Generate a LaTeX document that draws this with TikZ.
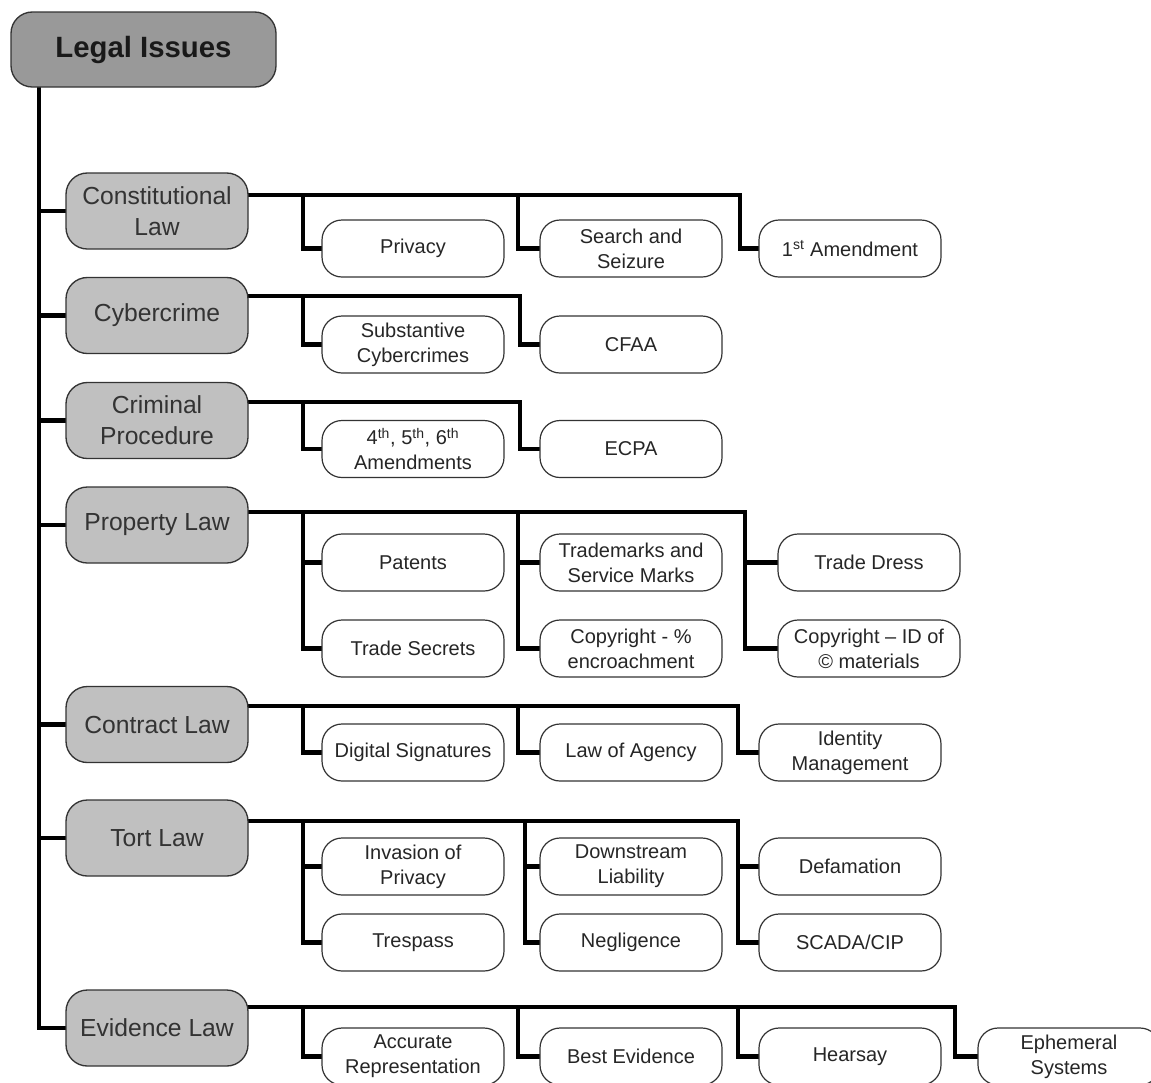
\documentclass[tikz,border=0pt]{standalone}
\usepackage{fontspec}
\setmainfont{Liberation Sans}
\usetikzlibrary{backgrounds}
\definecolor{rootgray}{HTML}{999999}
\definecolor{catgray}{HTML}{C0C0C0}
\definecolor{edgegray}{HTML}{333333}
\tikzset{
  rootbox/.style={draw=edgegray, line width=1pt, rounded corners=16pt, fill=rootgray,
    minimum width=198.75pt, minimum height=56.25pt, inner sep=1pt, align=center,
    text=black!90, font=\bfseries\fontsize{22}{26}\selectfont},
  catbox/.style={draw=edgegray, line width=1pt, rounded corners=16pt, fill=catgray,
    minimum width=136.5pt, minimum height=57pt, inner sep=1pt, align=center,
    text=black!80, font=\fontsize{18.5}{23}\selectfont},
  leafbox/.style={draw=edgegray, line width=0.9pt, rounded corners=15pt, fill=white,
    minimum width=136.5pt, minimum height=42.75pt, inner sep=1pt, align=center,
    text=black!85, font=\fontsize{15}{18.75}\selectfont},
  trunk/.style={draw=black, line width=3.6pt, line cap=rect},
}
\begin{document}
\begin{tikzpicture}[x=0.75pt,y=-0.75pt]
\useasboundingbox (0,0) rectangle (1151,1082);
\clip (0,0) rectangle (1151,1082);

% root and categories
\node[rootbox] (root) at (143.5,49.5) {Legal Issues};
\node[catbox] (cons) at (157,211) {Constitutional\\Law};
\node[catbox] (cyber) at (157,315.5) {Cybercrime};
\node[catbox] (crim) at (157,420.5) {Criminal\\Procedure};
\node[catbox] (prop) at (157,525) {Property Law};
\node[catbox] (contr) at (157,724.5) {Contract Law};
\node[catbox] (tort) at (157,838) {Tort Law};
\node[catbox] (evid) at (157,1028) {Evidence Law};

% leaves
\node[leafbox] (priv) at (413,248.5) {Privacy};
\node[leafbox] (search) at (631,248.5) {Search and\\Seizure};
\node[leafbox] (amend) at (850,248.5) {1\textsuperscript{st} Amendment};

\node[leafbox] (subst) at (413,344.5) {Substantive\\Cybercrimes};
\node[leafbox] (cfaa) at (631,344.5) {CFAA};

\node[leafbox] (fourth) at (413,449) {4\textsuperscript{th}, 5\textsuperscript{th}, 6\textsuperscript{th}\\Amendments};
\node[leafbox] (ecpa) at (631,449) {ECPA};

\node[leafbox] (pat) at (413,562.5) {Patents};
\node[leafbox] (secr) at (413,648.5) {Trade Secrets};
\node[leafbox] (tmark) at (631,562.5) {Trademarks and\\Service Marks};
\node[leafbox] (copyp) at (631,648.5) {Copyright - \%\\encroachment};
\node[leafbox] (dress) at (869,562.5) {Trade Dress};
\node[leafbox] (copyid) at (869,648.5) {Copyright -- ID of\\\textcopyright{} materials};

\node[leafbox] (dsig) at (413,752.5) {Digital Signatures};
\node[leafbox] (agency) at (631,752.5) {Law of Agency};
\node[leafbox] (ident) at (850,752.5) {Identity\\Management};

\node[leafbox] (invas) at (413,866.5) {Invasion of\\Privacy};
\node[leafbox] (tresp) at (413,942.5) {Trespass};
\node[leafbox] (down) at (631,866.5) {Downstream\\Liability};
\node[leafbox] (negl) at (631,942.5) {Negligence};
\node[leafbox] (defam) at (850,866.5) {Defamation};
\node[leafbox] (scada) at (850,942.5) {SCADA/CIP};

\node[leafbox] (accur) at (413,1056.5) {Accurate\\Representation};
\node[leafbox] (best) at (631,1056.5) {Best Evidence};
\node[leafbox] (hear) at (850,1056.5) {Hearsay};
\node[leafbox] (ephem) at (1069,1056.5) {Ephemeral\\Systems};

% junction points
\coordinate (t0) at (39,87);
\coordinate (j11) at (303,195); \coordinate (j12) at (518,195); \coordinate (j13) at (740,195);
\coordinate (j21) at (303,296); \coordinate (j22) at (520,296);
\coordinate (j31) at (303,402); \coordinate (j32) at (520,402);
\coordinate (j41) at (303,512); \coordinate (j42) at (518,512); \coordinate (j43) at (745,512);
\coordinate (j51) at (303,706); \coordinate (j52) at (518,706); \coordinate (j53) at (738,706);
\coordinate (j61) at (303,821); \coordinate (j62) at (525,821); \coordinate (j63) at (738,821);
\coordinate (j71) at (303,1007); \coordinate (j72) at (518,1007); \coordinate (j73) at (738,1007); \coordinate (j74) at (955,1007);

\begin{scope}[on background layer]
% trunk
\draw[trunk] (t0) |- (evid.west);
\foreach \c in {cons,cyber,crim,prop,contr,tort}{
  \draw[trunk] (t0 |- \c.west) -- (\c.west);
}
% constitutional
\draw[trunk] (cons.east |- j11) -- (j13) |- (amend.west);
\draw[trunk] (j11) |- (priv.west);
\draw[trunk] (j12) |- (search.west);
% cybercrime
\draw[trunk] (cyber.east |- j21) -- (j22) |- (cfaa.west);
\draw[trunk] (j21) |- (subst.west);
% criminal procedure
\draw[trunk] (crim.east |- j31) -- (j32) |- (ecpa.west);
\draw[trunk] (j31) |- (fourth.west);
% property
\draw[trunk] (prop.east |- j41) -- (j43) |- (copyid.west);
\draw[trunk] (j43 |- dress.west) -- (dress.west);
\draw[trunk] (j41) |- (secr.west);
\draw[trunk] (j41 |- pat.west) -- (pat.west);
\draw[trunk] (j42) |- (copyp.west);
\draw[trunk] (j42 |- tmark.west) -- (tmark.west);
% contract
\draw[trunk] (contr.east |- j51) -- (j53) |- (ident.west);
\draw[trunk] (j51) |- (dsig.west);
\draw[trunk] (j52) |- (agency.west);
% tort
\draw[trunk] (tort.east |- j61) -- (j63) |- (scada.west);
\draw[trunk] (j63 |- defam.west) -- (defam.west);
\draw[trunk] (j61) |- (tresp.west);
\draw[trunk] (j61 |- invas.west) -- (invas.west);
\draw[trunk] (j62) |- (negl.west);
\draw[trunk] (j62 |- down.west) -- (down.west);
% evidence
\draw[trunk] (evid.east |- j71) -- (j74) |- (ephem.west);
\draw[trunk] (j71) |- (accur.west);
\draw[trunk] (j72) |- (best.west);
\draw[trunk] (j73) |- (hear.west);
\end{scope}
\end{tikzpicture}
\end{document}
